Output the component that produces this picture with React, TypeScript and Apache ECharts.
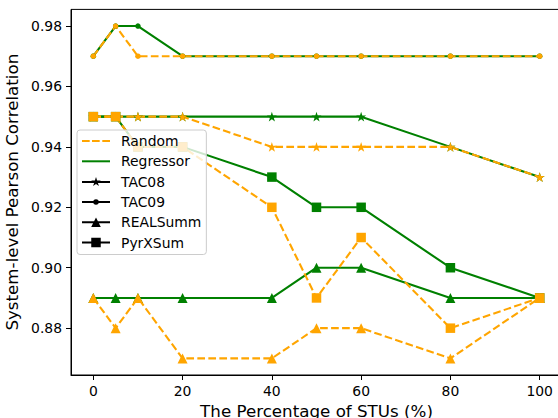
import React, { useEffect, useRef } from "react";
import * as echarts from "echarts";

// ---- data ----
const xValues = [0, 5, 10, 20, 40, 50, 60, 80, 100];
const xTicks = [0, 20, 40, 60, 80, 100];
const yTicks = [0.88, 0.9, 0.92, 0.94, 0.96, 0.98];

const tac08Regressor = [0.95, 0.95, 0.95, 0.95, 0.95, 0.95, 0.95, 0.94, 0.93];
const tac08Random = [0.95, 0.95, 0.95, 0.95, 0.94, 0.94, 0.94, 0.94, 0.93];
const tac09Regressor = [0.97, 0.98, 0.98, 0.97, 0.97, 0.97, 0.97, 0.97, 0.97];
const tac09Random = [0.97, 0.98, 0.97, 0.97, 0.97, 0.97, 0.97, 0.97, 0.97];
const realsummRegressor = [0.89, 0.89, 0.89, 0.89, 0.89, 0.9, 0.9, 0.89, 0.89];
const realsummRandom = [0.89, 0.88, 0.89, 0.87, 0.87, 0.88, 0.88, 0.87, 0.89];
const pyrxsumRegressor = [0.95, 0.95, 0.94, 0.94, 0.93, 0.92, 0.92, 0.9, 0.89];
const pyrxsumRandom = [0.95, 0.95, 0.94, 0.94, 0.92, 0.89, 0.91, 0.88, 0.89];

const methods = ["Random", "Regressor"];
const datasets = ["TAC08", "TAC09", "REALSumm", "PyrXSum"];

const GREEN = "#008000";
const ORANGE = "#ffa500";
const FONT = "DejaVu Sans";

const STAR =
  "path://M0,-5L1.123,-1.545L4.755,-1.545L1.816,0.59L2.939,4.045L0,1.91L-2.939,4.045L-1.816,0.59L-4.755,-1.545L-1.123,-1.545Z";

const symbolFor: Record<string, { symbol: string; size: number | number[] }> = {
  TAC08: { symbol: STAR, size: [10, 9.6] },
  TAC09: { symbol: "circle", size: 5.5 },
  REALSumm: { symbol: "triangle", size: 10 },
  PyrXSum: { symbol: "rect", size: 9.5 },
};

const legendIcons: Record<string, string> = {
  Random: "path://M0,-1h7.7v2h-7.7z M10,-1h7.7v2h-7.7z M20.3,-1h7.7v2h-7.7z",
  Regressor: "path://M0,-1h28v2h-28z",
  TAC08:
    "path://M0,-1h28v2h-28z M14,-5L15.123,-1.545L18.755,-1.545L15.816,0.59L16.939,4.045L14,1.91L11.061,4.045L12.184,0.59L9.245,-1.545L12.877,-1.545Z",
  TAC09: "path://M0,-1h28v2h-28z M11.25,0a2.75,2.75 0 1,1 5.5,0a2.75,2.75 0 1,1 -5.5,0z",
  REALSumm: "path://M0,-1h28v2h-28z M14,-4.8L18.8,4.8L9.2,4.8Z",
  PyrXSum: "path://M0,-1h28v2h-28z M9.25,-4.75h9.5v9.5h-9.5z",
};

function pairs(ys: number[]) {
  return xValues.map((x, i) => [x, ys[i]]);
}

export default function App() {
  const ref = useRef<HTMLDivElement>(null);

  useEffect(() => {
    document.body.style.margin = "0";
    if (!ref.current) return;
    const chart = echarts.init(ref.current, undefined, { renderer: "svg" });

    const regressorData: Record<string, number[]> = {
      TAC08: tac08Regressor,
      TAC09: tac09Regressor,
      REALSumm: realsummRegressor,
      PyrXSum: pyrxsumRegressor,
    };
    const randomData: Record<string, number[]> = {
      TAC08: tac08Random,
      TAC09: tac09Random,
      REALSumm: realsummRandom,
      PyrXSum: pyrxsumRandom,
    };

    const mkSeries = (ds: string, method: string, ys: number[]) => {
      const color = method === "Random" ? ORANGE : GREEN;
      return {
        type: "line",
        name: ds + " (" + method + ")",
        data: pairs(ys),
        symbol: symbolFor[ds].symbol,
        symbolSize: symbolFor[ds].size,
        showSymbol: true,
        color,
        itemStyle: { color, borderWidth: 0, opacity: 1 },
        lineStyle: {
          color,
          width: 2.1,
          type: method === "Random" ? [7.7, 3.3] : "solid",
        },
        emphasis: { disabled: true },
        silent: true,
        z: 2,
      };
    };

    const series: any[] = [];
    datasets.forEach((ds) => series.push(mkSeries(ds, "Regressor", regressorData[ds])));
    datasets.forEach((ds) => series.push(mkSeries(ds, "Random", randomData[ds])));

    // legend-only series
    const legendNames = [...methods, ...datasets];
    legendNames.forEach((n) => {
      const color = n === "Random" ? ORANGE : n === "Regressor" ? GREEN : "#000";
      series.push({
        type: "line",
        name: n,
        data: [],
        color,
        itemStyle: { color },
        lineStyle: { color },
      });
    });

    chart.setOption({
      animation: false,
      backgroundColor: "#fff",
      textStyle: { fontFamily: FONT },
      grid: {
        left: 71,
        top: 9.4,
        width: 491,
        height: 365.6,
        show: true,
        borderColor: "#000",
        borderWidth: 1,
        backgroundColor: "transparent",
        containLabel: false,
        outerBoundsMode: "none",
      },
      xAxis: {
        type: "value",
        min: -5,
        max: 105,
        name: "The Percentage of STUs (%)",
        nameLocation: "middle",
        nameGap: 22,
        nameTextStyle: { fontFamily: FONT, fontSize: 16.7, color: "#000" },
        axisLine: { show: true, onZero: false, lineStyle: { color: "#000", width: 1 } },
        axisTick: {
          show: true,
          length: 5,
          inside: false,
          customValues: xTicks,
          lineStyle: { color: "#000", width: 1 },
        },
        axisLabel: {
          show: true,
          margin: 9,
          customValues: xTicks,
          fontFamily: FONT,
          fontSize: 13.9,
          color: "#000",
          formatter: (v: number) => String(v),
        },
        splitLine: { show: false },
      },
      yAxis: {
        type: "value",
        min: 0.8645,
        max: 0.9855,
        name: "System-level Pearson Correlation",
        nameLocation: "middle",
        nameGap: 47,
        nameTextStyle: { fontFamily: FONT, fontSize: 16.7, color: "#000" },
        axisLine: { show: true, onZero: false, lineStyle: { color: "#000", width: 1 } },
        axisTick: {
          show: true,
          length: 5,
          inside: false,
          customValues: yTicks,
          lineStyle: { color: "#000", width: 1 },
        },
        axisLabel: {
          show: true,
          margin: 9,
          customValues: yTicks,
          fontFamily: FONT,
          fontSize: 13.9,
          color: "#000",
          formatter: (v: number) => v.toFixed(2),
        },
        splitLine: { show: false },
      },
      legend: {
        show: true,
        orient: "vertical",
        left: 77,
        top: 130,
        padding: [4, 5, 5, 5],
        itemWidth: 28,
        itemHeight: 10,
        itemGap: 6.3,
        selectedMode: false,
        backgroundColor: "rgba(255,255,255,0.8)",
        borderColor: "#cccccc",
        borderWidth: 1,
        borderRadius: 3,
        itemStyle: { borderWidth: 0 },
        textStyle: {
          fontFamily: FONT,
          fontSize: 13.9,
          lineHeight: 14,
          color: "#000",
          padding: [0, 0, 0, 6],
        },
        data: legendNames.map((n) => ({ name: n, icon: legendIcons[n] })),
        z: 10,
      },
      series,
    });

    return () => {
      chart.dispose();
    };
  }, []);

  return (
    <div
      ref={ref}
      style={{ position: "fixed", left: 0, top: 0, width: 558, height: 418 }}
    />
  );
}
